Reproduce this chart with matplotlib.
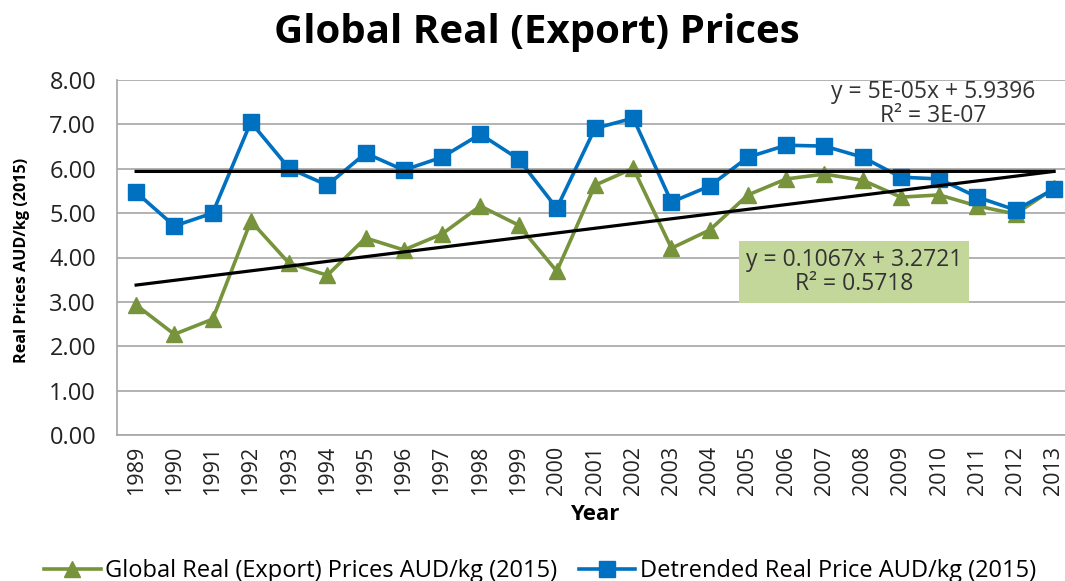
import matplotlib.pyplot as plt
import numpy as np

plt.rcParams["font.family"] = ["Open Sans", "DejaVu Sans"]

years = [str(y) for y in range(1989, 2014)]
global_price = [2.93, 2.27, 2.61, 4.82, 3.87, 3.60, 4.44, 4.17, 4.53, 5.16,
                4.73, 3.69, 5.63, 6.01, 4.21, 4.62, 5.41, 5.77, 5.88, 5.74,
                5.36, 5.41, 5.16, 4.98, 5.56]
detrended = [5.47, 4.71, 5.00, 7.05, 6.01, 5.63, 6.35, 5.97, 6.26, 6.78,
             6.22, 5.11, 6.91, 7.14, 5.25, 5.61, 6.26, 6.53, 6.51, 6.26,
             5.81, 5.77, 5.36, 5.07, 5.54]
# Excel trendline coefficients (x = 1..25)
trend_global = (0.1067, 3.2721)
trend_detr = (5e-05, 5.9396)
yticks = [0, 1, 2, 3, 4, 5, 6, 7, 8]

GREEN, BLUE = "#77933c", "#0070c0"
GRID = "#a6a6a6"

fig = plt.figure(figsize=(10.65, 5.81), dpi=100)
ax = fig.add_axes([117 / 1065, 1 - 435 / 581, (1073 - 117) / 1065, (435 - 80) / 581])

x = np.arange(len(years))
ax.plot(x, global_price, "-^", color=GREEN, linewidth=2.6, markersize=12,
        label="Global Real (Export) Prices AUD/kg (2015)", zorder=3)
ax.plot(x, detrended, "-s", color=BLUE, linewidth=2.6, markersize=11,
        label="Detrended Real Price AUD/kg (2015)", zorder=3)

xn = x + 1
ax.plot(x, trend_global[0] * xn + trend_global[1], color="black", linewidth=2.3, zorder=4)
ax.plot(x, trend_detr[0] * xn + trend_detr[1], color="black", linewidth=2.3, zorder=4)

ax.set_xlim(-0.5, len(years) - 0.5)
ax.set_ylim(0, 8)
ax.set_yticks(yticks)
ax.set_yticklabels([f"{v:.2f}" for v in yticks], fontsize=17)
ax.set_xticks(x)
ax.set_xticklabels(years, rotation=90, fontsize=15.5)
ax.tick_params(axis="y", length=0, pad=15, colors="#222222")
ax.tick_params(axis="x", length=0, pad=8, colors="#222222")
ax.grid(True, axis="y", color=GRID, linewidth=1.2, zorder=0)
for side in ("top", "right"):
    ax.spines[side].set_visible(False)
for side in ("left", "bottom"):
    ax.spines[side].set_color(GRID)
    ax.spines[side].set_linewidth(1.2)

ax.set_xlabel("Year", fontsize=16, fontweight="bold")
ax.xaxis.set_label_coords(0.5, -0.195)
fig.text(22 / 1065, 1 - 260 / 581, "Real Prices AUD/kg (2015)", rotation=90,
         ha="center", va="center", fontsize=11.6, fontweight="bold")

ax.text(20.84, 7.45, "y = 5E-05x + 5.9396\nR² = 3E-07", ha="center", va="center",
        fontsize=16.5, color="#333333", linespacing=1.0, zorder=5)
ax.text(18.77, 3.67, "y = 0.1067x + 3.2721\nR² = 0.5718", ha="center", va="center",
        fontsize=16.5, color="#333333", linespacing=1.0, zorder=5,
        bbox=dict(boxstyle="square,pad=0.3", facecolor="#c4d79b", edgecolor="none"))

fig.suptitle("Global Real (Export) Prices", x=537 / 1065, y=1 - 32 / 581,
             va="center", fontsize=29, fontweight="bold")
fig.legend(loc="center", bbox_to_anchor=(540 / 1065, 1 - 571 / 581), ncol=2,
           frameon=False, fontsize=17, handlelength=2.4, columnspacing=0.9,
           handletextpad=0.2)

fig.savefig("out.png", dpi=100)
